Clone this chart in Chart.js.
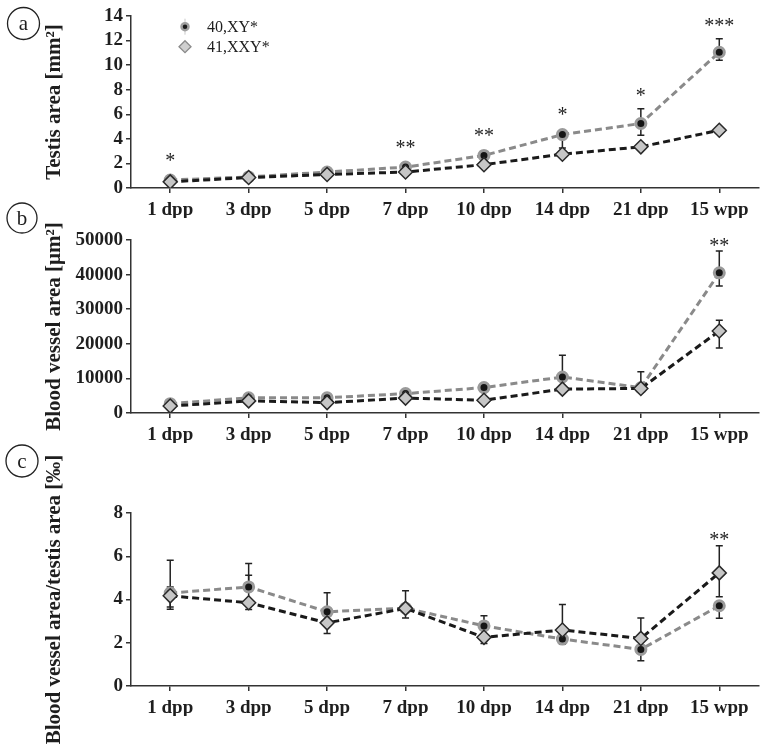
<!DOCTYPE html>
<html>
<head>
<meta charset="utf-8">
<script src="https://cdn.jsdelivr.net/npm/chart.js@4.4.1/dist/chart.umd.min.js"></script>
<style>
  html, body { margin: 0; padding: 0; background: #fff; }
  #wrap { position: relative; width: 767px; height: 755px; }
  #wrap canvas { position: absolute; left: 0; top: 0; }
</style>
</head>
<body>
<div id="wrap">
  <canvas id="chartA" width="767" height="755"></canvas>
  <canvas id="chartB" width="767" height="755"></canvas>
  <canvas id="chartC" width="767" height="755"></canvas>
</div>
<script>
// Time points
const ages = ['1 dpp', '3 dpp', '5 dpp', '7 dpp', '10 dpp', '14 dpp', '21 dpp', '15 wpp'];

// (a) Testis area [mm2]
const xyTestis = [0.65, 0.9, 1.3, 1.7, 2.65, 4.35, 5.25, 11.05];
const xyTestisUp = [0, 0, 0, 0, 0, 0, 1.2, 1.1];
const xyTestisDown = [0, 0, 0, 0, 0, 1.1, 0.95, 0.65];
const xxyTestis = [0.5, 0.85, 1.1, 1.3, 1.9, 2.75, 3.35, 4.7];
const xxyTestisUp = [0, 0, 0, 0, 0, 0, 0, 0];
const xxyTestisDown = [0, 0, 0, 0, 0, 0, 0, 0];
const testisStars = ['*', '', '', '**', '**', '*', '*', '***'];

// (b) Blood vessel area [um2]
const xyVessel = [2700, 4400, 4400, 5600, 7350, 10400, 7300, 40500];
const xyVesselUp = [0, 0, 0, 0, 0, 6300, 4600, 6300];
const xyVesselDown = [0, 0, 0, 0, 0, 0, 0, 3800];
const xxyVessel = [2000, 3500, 3000, 4300, 3700, 6900, 7100, 23700];
const xxyVesselUp = [0, 0, 0, 0, 0, 0, 0, 3100];
const xxyVesselDown = [0, 0, 0, 0, 0, 0, 0, 4900];
const vesselStars = ['', '', '', '', '', '', '', '**'];

// (c) Blood vessel area / testis area [permille]
const xyRatio = [4.3, 4.58, 3.43, 3.6, 2.78, 2.17, 1.69, 3.71];
const xyRatioUp = [1.52, 1.08, 0.88, 0.8, 0.47, 0, 0, 0];
const xyRatioDown = [0.75, 0, 0, 0.46, 0, 0.24, 0.52, 0.58];
const xxyRatio = [4.17, 3.85, 2.92, 3.59, 2.25, 2.59, 2.2, 5.23];
const xxyRatioUp = [0.41, 1.27, 0, 0, 0, 1.18, 0.95, 1.25];
const xxyRatioDown = [0.52, 0.31, 0.49, 0, 0.28, 0, 0, 1.1];
const ratioStars = ['', '', '', '', '', '', '', '**'];

const FONT = "'Liberation Serif', 'Times New Roman', serif";
const INK = '#1e1e1e';
const AXIS = '#333';

// Vertical error bars, drawn under the markers
const errorBars = {
  id: 'errorBars',
  beforeDatasetsDraw(chart) {
    const { ctx, scales: { x, y } } = chart;
    ctx.save();
    ctx.strokeStyle = '#222';
    ctx.lineWidth = 1.5;
    chart.data.datasets.forEach(ds => {
      ds.data.forEach((v, i) => {
        const px = x.getPixelForValue(i);
        [[ds.errUp, 1], [ds.errDown, -1]].forEach(([arr, dir]) => {
          const e = arr ? arr[i] : 0;
          if (!e) return;
          const py0 = y.getPixelForValue(v);
          const py1 = y.getPixelForValue(v + dir * e);
          ctx.beginPath();
          ctx.moveTo(px, py0);
          ctx.lineTo(px, py1);
          ctx.moveTo(px - 3.5, py1);
          ctx.lineTo(px + 3.5, py1);
          ctx.stroke();
        });
      });
    });
    ctx.restore();
  }
};

// Significance asterisks above each time point
const stars = {
  id: 'stars',
  afterDatasetsDraw(chart, args, opts) {
    const marks = opts.marks || [];
    const { ctx, scales: { x, y } } = chart;
    ctx.save();
    ctx.fillStyle = INK;
    ctx.font = '20px ' + FONT;
    ctx.textAlign = 'center';
    ctx.textBaseline = 'alphabetic';
    marks.forEach((m, i) => {
      if (!m) return;
      let top = Infinity;
      chart.data.datasets.forEach(ds => {
        const v = ds.data[i];
        const up = ds.errUp ? ds.errUp[i] : 0;
        top = Math.min(top, y.getPixelForValue(v + up), y.getPixelForValue(v) - 7);
      });
      const cy = top - opts.gap;
      ctx.fillText(m, x.getPixelForValue(i), cy + 9.6);
    });
    ctx.restore();
  }
};

// Circled panel letter
const panelLabel = {
  id: 'panelLabel',
  afterDraw(chart, args, opts) {
    if (!opts.text) return;
    const ctx = chart.ctx;
    ctx.save();
    ctx.strokeStyle = '#222';
    ctx.lineWidth = 1.3;
    ctx.beginPath();
    ctx.arc(opts.x, opts.y, opts.r, 0, Math.PI * 2);
    ctx.stroke();
    ctx.fillStyle = INK;
    ctx.font = '21px ' + FONT;
    ctx.textAlign = 'center';
    ctx.textBaseline = 'middle';
    ctx.fillText(opts.text, opts.x, opts.y + 1);
    ctx.restore();
  }
};

// Legend drawn inside panel (a)
const innerLegend = {
  id: 'innerLegend',
  afterDraw(chart, args, opts) {
    if (!opts.show) return;
    const ctx = chart.ctx;
    ctx.save();
    chart.data.datasets.slice().reverse().forEach((ds, k) => {
      const mx = opts.x, my = opts.y + k * opts.rowGap;
      if (ds.pointStyle === 'circle') {
        ctx.strokeStyle = 'rgba(150,150,150,0.5)';
        ctx.lineWidth = 1;
        ctx.beginPath();
        ctx.moveTo(mx, my - 8);
        ctx.lineTo(mx, my + 8);
        ctx.stroke();
        ctx.fillStyle = '#1a1a1a';
        ctx.strokeStyle = '#a0a0a0';
        ctx.lineWidth = 2.5;
        ctx.beginPath();
        ctx.arc(mx, my, 3.5, 0, Math.PI * 2);
        ctx.fill();
        ctx.stroke();
      } else {
        ctx.fillStyle = '#cfcfcf';
        ctx.strokeStyle = '#8a8a8a';
        ctx.lineWidth = 1.3;
        ctx.beginPath();
        ctx.moveTo(mx, my - 6);
        ctx.lineTo(mx + 6, my);
        ctx.lineTo(mx, my + 6);
        ctx.lineTo(mx - 6, my);
        ctx.closePath();
        ctx.fill();
        ctx.stroke();
      }
      ctx.fillStyle = INK;
      ctx.font = '16px ' + FONT;
      ctx.textAlign = 'left';
      ctx.textBaseline = 'middle';
      ctx.fillText(ds.label, opts.x + 22, my + 1);
    });
    ctx.restore();
  }
};

function makePanel(id, cfg) {
  return new Chart(document.getElementById(id), {
    type: 'line',
    data: {
      labels: ages,
      datasets: [
        {
          label: '41,XXY*',
          data: cfg.xxy,
          errUp: cfg.xxyUp,
          errDown: cfg.xxyDown,
          order: 0,
          borderColor: '#1a1a1a',
          borderWidth: 3,
          borderDash: [7, 4],
          pointStyle: 'rectRot',
          pointRadius: 7,
          pointBackgroundColor: '#c6c6c6',
          pointBorderColor: '#2a2a2a',
          pointBorderWidth: 1.5,
          tension: 0
        },
        {
          label: '40,XY*',
          data: cfg.xy,
          errUp: cfg.xyUp,
          errDown: cfg.xyDown,
          order: 1,
          borderColor: '#8a8a8a',
          borderWidth: 3,
          borderDash: [7, 4],
          pointStyle: 'circle',
          pointRadius: 5,
          pointBackgroundColor: '#151515',
          pointBorderColor: '#9a9a9a',
          pointBorderWidth: 3,
          tension: 0
        }
      ]
    },
    options: {
      responsive: false,
      animation: false,
      events: [],
      layout: { padding: { left: 0, right: 1, top: cfg.top, bottom: cfg.bottom } },
      plugins: {
        legend: { display: false },
        tooltip: { enabled: false },
        stars: { marks: cfg.stars, gap: cfg.starGap },
        panelLabel: cfg.letter,
        innerLegend: { show: !!cfg.legend, x: 185, y: 26.7, rowGap: 20 }
      },
      scales: {
        x: {
          type: 'category',
          offset: true,
          grid: { offset: false, drawOnChartArea: false, tickLength: 5, color: AXIS, lineWidth: 1.5 },
          border: { color: AXIS, width: 1.5 },
          ticks: {
            color: INK,
            font: { family: FONT, size: 19, weight: 'bold' },
            padding: 6,
            maxRotation: 0,
            autoSkip: false
          },
          afterFit: s => { s.height = 30; }
        },
        y: {
          min: 0,
          max: cfg.max,
          grid: { drawOnChartArea: false, tickLength: 5, color: AXIS, lineWidth: 1.5 },
          border: { color: AXIS, width: 1.5 },
          ticks: {
            stepSize: cfg.step,
            autoSkip: false,
            color: INK,
            font: { family: FONT, size: 19, weight: 'bold' },
            padding: 3,
            callback: v => String(v)
          },
          title: {
            display: true,
            text: cfg.title,
            color: INK,
            font: { family: FONT, size: 21, weight: 'bold' },
            padding: { top: 42, bottom: 0 }
          },
          afterFit: s => { s.width = 131; }
        }
      }
    },
    plugins: [errorBars, stars, panelLabel, innerLegend]
  });
}

makePanel('chartA', {
  xy: xyTestis, xyUp: xyTestisUp, xyDown: xyTestisDown,
  xxy: xxyTestis, xxyUp: xxyTestisUp, xxyDown: xxyTestisDown,
  stars: testisStars, starGap: 16,
  max: 14, step: 2, title: 'Testis area [mm\u00b2]',
  top: 16, bottom: 537,
  letter: { text: 'a', x: 23.5, y: 23.5, r: 16 },
  legend: true
});

makePanel('chartB', {
  xy: xyVessel, xyUp: xyVesselUp, xyDown: xyVesselDown,
  xxy: xxyVessel, xxyUp: xxyVesselUp, xxyDown: xxyVesselDown,
  stars: vesselStars, starGap: 9,
  max: 50000, step: 10000, title: 'Blood vessel area [\u03bcm\u00b2]',
  top: 240, bottom: 312,
  letter: { text: 'b', x: 22, y: 218, r: 15 }
});

makePanel('chartC', {
  xy: xyRatio, xyUp: xyRatioUp, xyDown: xyRatioDown,
  xxy: xxyRatio, xxyUp: xxyRatioUp, xxyDown: xxyRatioDown,
  stars: ratioStars, starGap: 9,
  max: 8, step: 2, title: 'Blood vessel area/testis area [\u2030]',
  top: 513, bottom: 39,
  letter: { text: 'c', x: 22, y: 461, r: 16 }
});
</script>
</body>
</html>
